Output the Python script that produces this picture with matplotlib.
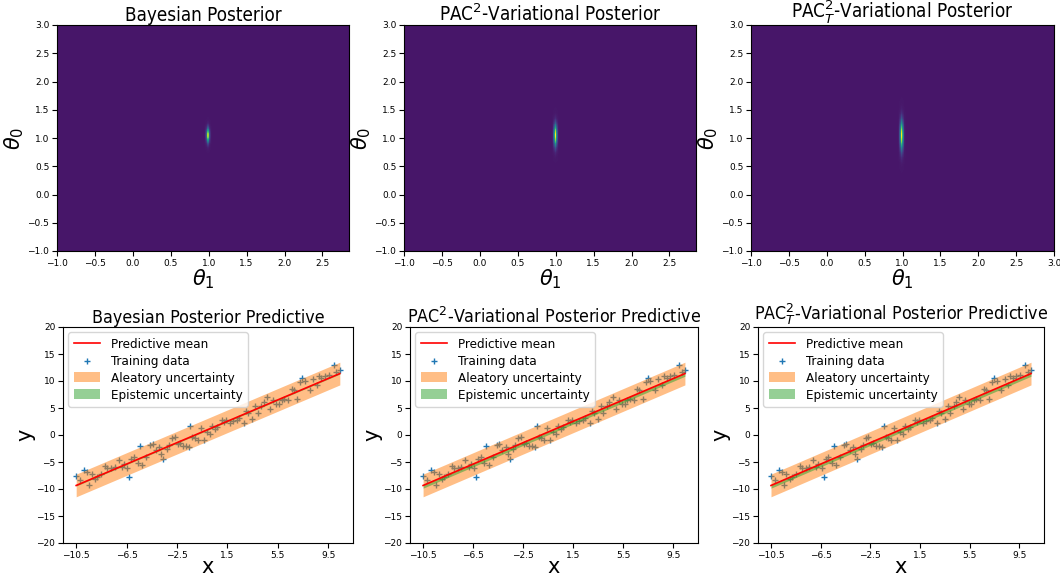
import numpy as np
import matplotlib
matplotlib.use("Agg")
import matplotlib.pyplot as plt
from matplotlib.colors import Normalize

# training data
x_train = [-10.50, -10.21, -9.87, -9.63, -9.47, -9.26, -8.97, -8.81, -8.49, -8.20,
           -8.04, -7.72, -7.43, -7.14, -6.85, -6.69, -6.43, -6.27, -6.11, -5.90,
           -5.61, -5.45, -5.24, -4.92, -4.63, -4.44, -4.18, -3.91, -3.73, -3.57,
           -3.28, -3.12, -2.88, -2.67, -2.43, -2.27, -2.01, -1.80, -1.58, -1.43,
           -1.27, -1.06, -0.82, -0.58, -0.34, -0.10, 0.11, 0.29, 0.53, 0.69,
           1.06, 1.22, 1.43, 1.75, 1.96, 2.28, 2.46, 2.83, 3.02, 3.18,
           3.47, 3.71, 3.92, 4.21, 4.39, 4.66, 4.92, 5.13, 5.40, 5.61,
           5.83, 6.01, 6.33, 6.62, 6.78, 7.07, 7.30, 7.46, 7.67, 8.04,
           8.31, 8.60, 8.76, 8.97, 9.24, 9.58, 9.98, 10.16, 10.43]
y_train = [-7.6, -8.4, -6.5, -6.8, -9.3, -7.2, -8.1, -7.8, -7.2, -5.7,
           -6.2, -6.2, -5.9, -4.6, -5.9, -5.3, -6.2, -7.8, -4.4, -4.0,
           -5.2, -2.1, -5.5, -4.1, -1.9, -1.7, -2.7, -2.3, -3.6, -4.4,
           -2.5, -1.9, -0.5, -0.4, -1.6, -1.5, -2.0, -2.1, -2.2, 1.7,
           -0.4, -0.6, -1.0, 1.3, -1.0, 0.6, 0.2, 1.7, 1.2, 1.5,
           2.7, 2.5, 2.8, 2.2, 2.6, 2.8, 3.1, 2.2, 4.4, 4.0,
           3.0, 5.3, 4.1, 5.3, 6.1, 7.0, 4.9, 6.5, 5.8, 5.8,
           6.4, 6.7, 6.5, 8.6, 8.4, 6.7, 9.8, 10.5, 10.0, 8.3,
           10.4, 9.2, 11.0, 10.5, 11.0, 11.2, 13.0, 11.7, 12.0]

methods = ["Bayesian", "PAC$^2$-Variational", "PAC$^2_T$-Variational"]
# posterior means / stds for (theta0 intercept, theta1 slope)
theta0_mean = [1.05, 1.05, 1.05]
theta1_mean = [0.99, 0.99, 0.99]
theta0_std = [0.085, 0.13, 0.175]
theta1_std = [0.014, 0.014, 0.015]
theta1_max = [2.85, 2.85, 3.0]
# predictive band widths
aleatory_half = [2.1, 2.1, 2.1]
epistemic_lo = [0.1, 0.5, 0.5]
epistemic_hi = [0.1, 0.1, 0.1]

W, H = 1060, 577
top_boxes = [(57, 349), (404, 696), (751, 1054)]
bot_boxes = [(63, 353), (410, 698), (758, 1044)]

fig = plt.figure(figsize=(W / 100, H / 100), dpi=100)

def box(x0, x1, y0, y1):
    return [x0 / W, 1 - y1 / H, (x1 - x0) / W, (y1 - y0) / H]

cmap = plt.get_cmap("viridis")
cond = dict(family="DejaVu Sans", stretch="condensed")

for i, name in enumerate(methods):
    # posterior density
    ax = fig.add_axes(box(*top_boxes[i], 25, 251))
    t1 = np.linspace(-1.0, theta1_max[i], 500)
    t0 = np.linspace(-1.0, 3.0, 500)
    T1, T0 = np.meshgrid(t1, t0)
    dens = np.exp(-0.5 * ((T1 - theta1_mean[i]) / theta1_std[i]) ** 2
                  - 0.5 * ((T0 - theta0_mean[i]) / theta0_std[i]) ** 2)
    ax.imshow(dens, origin="lower", aspect="auto", cmap=cmap,
              extent=[-1.0, theta1_max[i], -1.0, 3.0],
              norm=Normalize(vmin=-0.066, vmax=1.0), interpolation="nearest")
    ax.set_xticks(np.arange(-1.0, theta1_max[i] + 0.01, 0.5))
    ax.set_yticks(np.arange(-1.0, 3.01, 0.5))
    ax.tick_params(labelsize=6.5, pad=2)
    ax.set_xlabel(r"$\theta_1$", fontsize=15, labelpad=0)
    ax.set_ylabel(r"$\theta_0$", fontsize=15, labelpad=1)
    ax.set_title(name + " Posterior", fontsize=13.5, pad=2, **cond)

    # posterior predictive
    ax = fig.add_axes(box(*bot_boxes[i], 327, 543))
    xs = np.array(x_train)
    mean = theta0_mean[i] + theta1_mean[i] * xs
    ax.plot(xs, mean, color="red", lw=1.2, label="Predictive mean", zorder=3)
    ax.scatter(x_train, y_train, marker="+", s=22, color="C0", lw=1,
               label="Training data", zorder=1)
    ax.fill_between(xs, mean - aleatory_half[i], mean + aleatory_half[i],
                    color="C1", alpha=0.5, lw=0, label="Aleatory uncertainty",
                    zorder=2)
    ax.fill_between(xs, mean - epistemic_lo[i], mean + epistemic_hi[i],
                    color="C2", alpha=0.5, lw=0, label="Epistemic uncertainty",
                    zorder=2)
    ax.set_ylim(-20, 20)
    ax.set_xticks(np.arange(-10.5, 10.5, 4.0))
    ax.tick_params(labelsize=6.5, pad=2)
    ax.set_xlabel("x", fontsize=15, labelpad=-2)
    ax.set_ylabel("y", fontsize=15, labelpad=1)
    ax.set_title(name + " Posterior Predictive", fontsize=12.8, pad=3, **cond)
    ax.legend(loc="upper left", borderaxespad=0.4, handlelength=2.0,
              labelspacing=0.3, prop=dict(size=9.6, **cond))

fig.savefig("out.png", dpi=100)
